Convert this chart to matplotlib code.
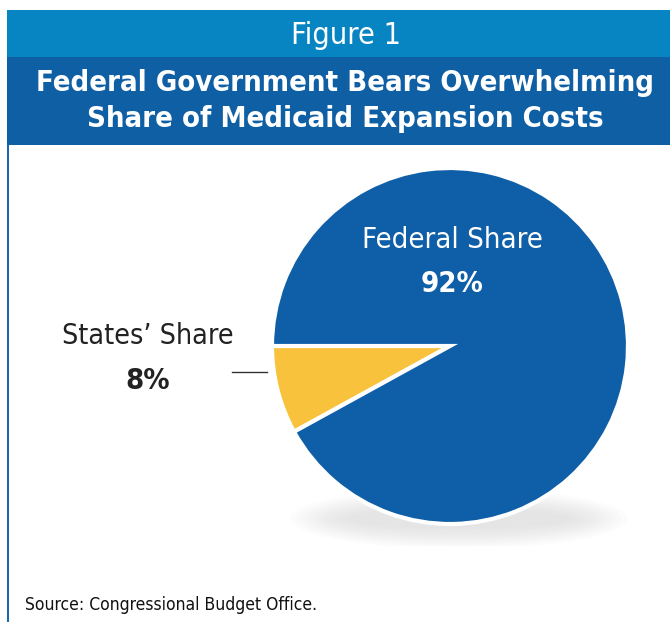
import matplotlib.pyplot as plt
from matplotlib.patches import Rectangle, Ellipse

labels = ["States\u2019 Share", "Federal Share"]
shares = [8, 92]
colors = ["#F9C23C", "#0F5EA8"]

title_top = "Figure 1"
title_lines = "Federal Government Bears Overwhelming\nShare of Medicaid Expansion Costs"
source = "Source: Congressional Budget Office."

W, H = 670, 622
FONT = dict(family="DejaVu Sans", fontstretch="condensed")


def px(x, y):
    # image pixel coords -> figure fraction
    return x / W, 1 - y / H


def main():
    fig = plt.figure(figsize=(W / 100, H / 100), dpi=100)
    fig.patch.set_facecolor("white")

    # header bands
    x0, y0 = px(7, 57)
    fig.patches.append(Rectangle((x0, y0), 1 - x0, 47 / H, transform=fig.transFigure,
                                 facecolor="#0784C2", edgecolor="none"))
    x0, y0 = px(7, 145)
    fig.patches.append(Rectangle((x0, y0), 1 - x0, 88 / H, transform=fig.transFigure,
                                 facecolor="#0F5FA4", edgecolor="none"))
    # left border
    fig.patches.append(Rectangle(px(7, 622), 2 / W, 477 / H, transform=fig.transFigure,
                                 facecolor="#1A66B0", edgecolor="none"))

    fig.text(*px(346, 35), title_top, color="white", fontsize=22, ha="center", va="center",
             **FONT)
    fig.text(*px(345, 101), title_lines, color="white", fontsize=21, fontweight="bold",
             ha="center", va="center", linespacing=1.38, **FONT)
    fig.text(*px(25, 605), source, color="#111111", fontsize=12.5, ha="left", va="center",
             **FONT)

    # pie axes, radius 1 == 178 px
    cx, cy, r = 450, 346, 178
    half = 200
    left, bottom = px(cx - half, cy + half)
    ax = fig.add_axes([left, bottom, 2 * half / W, 2 * half / H])
    lim = half / r

    # soft shadow under the pie
    for i in range(10):
        ax.add_patch(Ellipse((0.05, -0.97), 1.9 - i * 0.07, 0.34 - i * 0.025,
                             facecolor="#999999", edgecolor="none", alpha=0.022, zorder=0))

    ax.pie(shares, colors=colors, startangle=180, counterclock=True, radius=1,
           wedgeprops=dict(edgecolor="white", linewidth=3), frame=True)
    ax.set_xlim(-lim, lim)
    ax.set_ylim(-lim, lim)
    ax.set_aspect("equal")
    ax.axis("off")

    def d(x, y):
        return (x - cx) / r, (cy - y) / r

    ax.text(*d(452, 240), labels[1], color="white", fontsize=21, ha="center", va="center",
            **FONT)
    ax.text(*d(452, 284), f"{shares[1]}%", color="white", fontsize=21, fontweight="bold",
            ha="center", va="center", **FONT)
    ax.text(*d(148, 336), labels[0], color="#222222", fontsize=20.5, ha="center", va="center",
            **FONT)
    ax.text(*d(148, 381), f"{shares[0]}%", color="#222222", fontsize=21, fontweight="bold",
            ha="center", va="center", **FONT)
    lx0, ly = d(232, 372)
    lx1, _ = d(267, 372)
    ax.plot([lx0, lx1], [ly, ly], color="#333333", linewidth=1, clip_on=False)

    fig.savefig("out.png", dpi=100)


if __name__ == "__main__":
    main()
